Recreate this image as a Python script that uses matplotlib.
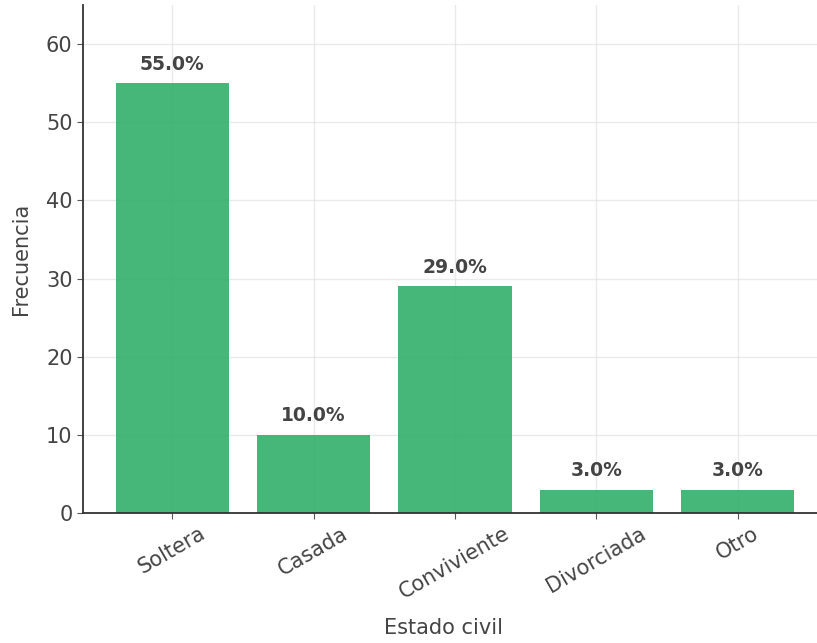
import matplotlib.pyplot as plt

# Data
categories = ['Soltera', 'Casada', 'Conviviente', 'Divorciada', 'Otro']
frecuencias = [55, 10, 29, 3, 3]
porcentajes = [55.0, 10.0, 29.0, 3.0, 3.0]

fig = plt.figure(figsize=(8.17, 6.43), dpi=100)
ax = fig.add_axes([0.1016, 0.2022, 0.9106, 0.790])

bars = ax.bar(categories, frecuencias, color='#3cb371', alpha=0.95, width=0.8, zorder=2)
ax.grid(True, color='#dddddd', linewidth=1, alpha=0.6, zorder=3)

# percentage labels above the bars
for bar, p in zip(bars, porcentajes):
    ax.text(bar.get_x() + bar.get_width() / 2, bar.get_height() + 1.2, f'{p:.1f}%',
            ha='center', va='bottom', fontsize=13.5, fontweight='bold', color='#444444')

ax.set_ylim(0, 65)
ax.set_xlim(-0.63, 4.63)
ax.set_yticks([0, 10, 20, 30, 40, 50, 60])
ax.tick_params(axis='both', labelsize=15, colors='#555555', labelcolor='#444444', length=4)
plt.setp(ax.get_xticklabels(), rotation=30)

ax.set_xlabel('Estado civil', fontsize=15, color='#444444')
ax.set_ylabel('Frecuencia', fontsize=15, color='#444444')
ax.xaxis.set_label_coords(0.485, -0.207)
ax.yaxis.set_label_coords(-0.07, 0.5)

for s in ['top', 'right']:
    ax.spines[s].set_visible(False)
for s in ['left', 'bottom']:
    ax.spines[s].set_color('#333333')
    ax.spines[s].set_linewidth(1.3)

plt.savefig('out.png', dpi=100)
